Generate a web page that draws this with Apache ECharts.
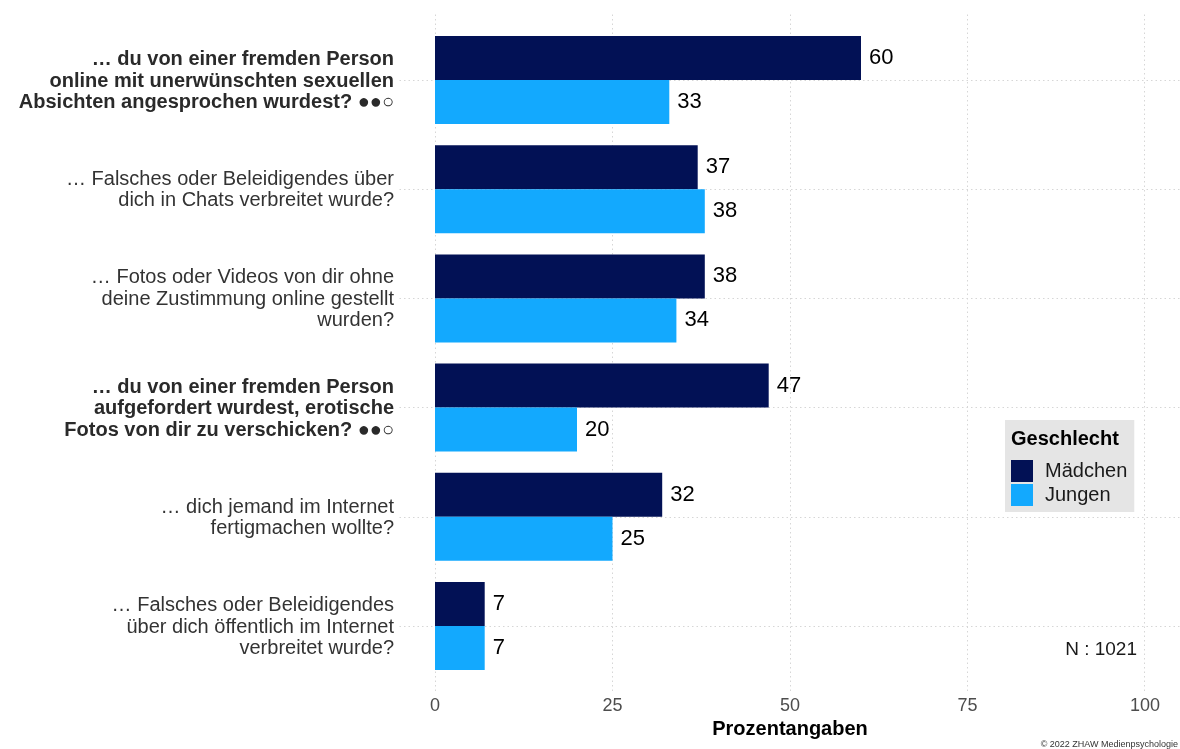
<!DOCTYPE html>
<html>
<head>
<meta charset="utf-8">
<script src="https://cdn.jsdelivr.net/npm/echarts@6/dist/echarts.min.js"></script>
<style>
html,body{margin:0;padding:0;background:#fff;}
#chart{width:1180px;height:749px;}
</style>
</head>
<body>
<div id="chart"></div>
<script>
// ---- data ----
const categories = [
  "… du von einer fremden Person\nonline mit unerwünschten sexuellen\nAbsichten angesprochen wurdest? ●●○",
  "… Falsches oder Beleidigendes über\ndich in Chats verbreitet wurde?",
  "… Fotos oder Videos von dir ohne\ndeine Zustimmung online gestellt\nwurden?",
  "… du von einer fremden Person\naufgefordert wurdest, erotische\nFotos von dir zu verschicken? ●●○",
  "… dich jemand im Internet\nfertigmachen wollte?",
  "… Falsches oder Beleidigendes\nüber dich öffentlich im Internet\nverbreitet wurde?"
];
const boldCategories = [true, false, false, true, false, false];
const maedchen = [60, 37, 38, 47, 32, 7];
const jungen = [33, 38, 34, 20, 25, 7];
const xTicks = [0, 25, 50, 75, 100];
const seriesNames = ["Mädchen", "Jungen"];
const legendTitle = "Geschlecht";
const axisTitle = "Prozentangaben";
const nText = "N : 1021";
const copyright = "© 2022 ZHAW Medienpsychologie";

const FONT = "'Liberation Sans', Arial, sans-serif";
const chart = echarts.init(document.getElementById('chart'));

const gridLineStyle = {color: '#d6d6d6', type: [1.5, 3], width: 1};

const option = {
  backgroundColor: '#ffffff',
  animation: false,
  textStyle: {fontFamily: FONT},
  title: [
    {text: legendTitle, left: 1011, top: 429, padding: 0, z: 10,
     textStyle: {fontSize: 20, fontWeight: 'bold', color: '#000', fontFamily: FONT}},
    {text: nText, right: 43, top: 640, padding: 0,
     textStyle: {fontSize: 19, fontWeight: 'normal', color: '#1a1a1a', fontFamily: FONT}},
    {text: copyright, right: 2, top: 740, padding: 0,
     textStyle: {fontSize: 9, fontWeight: 'normal', color: '#333', fontFamily: FONT}}
  ],
  legend: {
    data: seriesNames,
    orient: 'vertical',
    left: 1005, top: 420,
    backgroundColor: '#E5E5E5',
    padding: [40, 7, 6, 6],
    itemWidth: 22, itemHeight: 22, itemGap: 2,
    icon: 'rect',
    selectedMode: false,
    textStyle: {fontSize: 20, color: '#1a1a1a', fontFamily: FONT, padding: [0, 0, 0, 7]}
  },
  grid: [
    {left: 435, right: 35, top: 25.4, bottom: 68.4, containLabel: false},
    {left: 399.5, right: 0, top: 14.5, bottom: 57.5, containLabel: false}
  ],
  xAxis: [
    {type: 'value', gridIndex: 0, min: 0, max: 100, interval: 25,
     axisLine: {show: false}, axisTick: {show: false}, splitLine: {show: false},
     axisLabel: {fontSize: 18, color: '#4d4d4d', margin: 16, fontFamily: FONT},
     name: axisTitle, nameLocation: 'middle', nameGap: 35,
     nameTextStyle: {fontSize: 20, fontWeight: 'bold', color: '#000', fontFamily: FONT}},
    {type: 'value', gridIndex: 1, min: -5, max: 105, show: false}
  ],
  yAxis: [
    {type: 'category', gridIndex: 0, data: categories, inverse: true,
     axisLine: {show: false}, axisTick: {show: false}, splitLine: {show: false},
     axisLabel: {
       margin: 41, align: 'right', fontSize: 20, lineHeight: 21.5, color: '#333', fontFamily: FONT,
       formatter: function (v, i) { return boldCategories[i] ? '{b|' + v + '}' : '{n|' + v + '}'; },
       rich: {
         b: {fontSize: 20, lineHeight: 21.5, fontWeight: 'bold', color: '#2a2a2a', fontFamily: FONT, align: 'right', padding: [2, 0, 0, 0]},
         n: {fontSize: 20, lineHeight: 21.5, color: '#333', fontFamily: FONT, align: 'right', padding: [2, 0, 0, 0]}
       }
     }},
    {type: 'value', gridIndex: 1, min: 0.4, max: 6.6, inverse: true, show: false}
  ],
  series: [
    {type: 'line', xAxisIndex: 1, yAxisIndex: 1, data: [], z: 0, zlevel: 0, silent: true,
     markLine: {
       silent: true, z: 0, symbol: ['none', 'none'], label: {show: false},
       lineStyle: gridLineStyle, animation: false,
       data: xTicks.map(v => ({xAxis: v})).concat(categories.map((c, i) => ({yAxis: i + 1})))
     }},
    {name: seriesNames[0], type: 'bar', xAxisIndex: 0, yAxisIndex: 0, data: maedchen, z: 5,
     barWidth: 44, barGap: '0%', itemStyle: {color: '#021155'},
     label: {show: true, position: 'right', distance: 8, fontSize: 22, color: '#000', fontFamily: FONT}},
    {name: seriesNames[1], type: 'bar', xAxisIndex: 0, yAxisIndex: 0, data: jungen, z: 5,
     barWidth: 44, barGap: '0%', itemStyle: {color: '#13A9FE'},
     label: {show: true, position: 'right', distance: 8, fontSize: 22, color: '#000', fontFamily: FONT}}
  ]
};
chart.setOption(option);
</script>
</body>
</html>
